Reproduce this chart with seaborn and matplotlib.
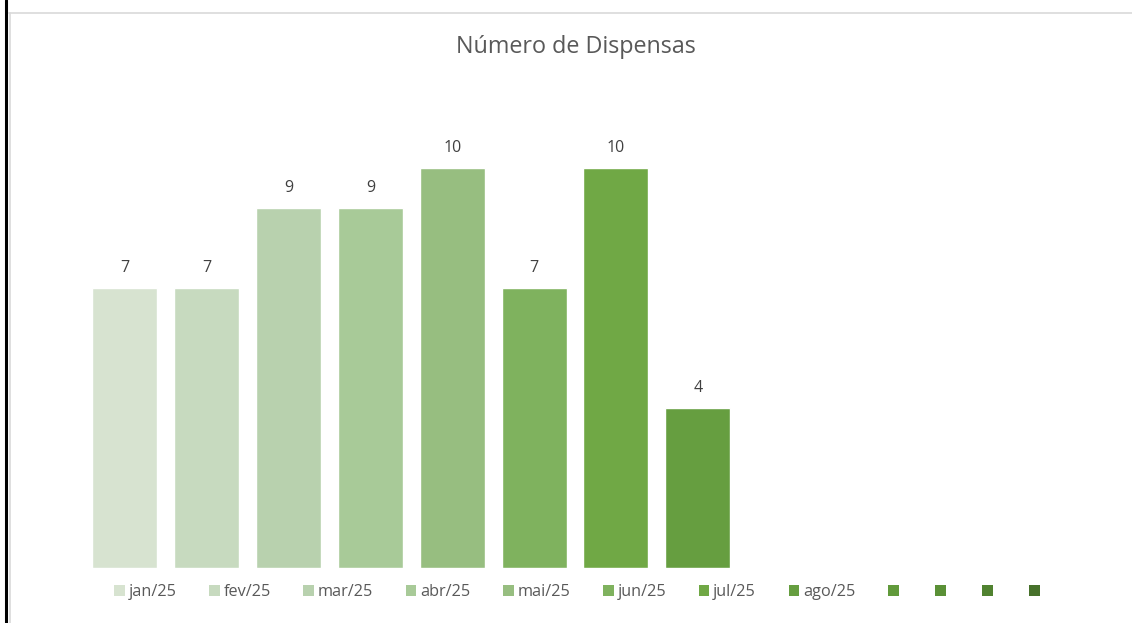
import numpy as np
import pandas as pd
import matplotlib
matplotlib.use("Agg")
import matplotlib.pyplot as plt
from matplotlib.patches import Patch
from matplotlib.lines import Line2D
import seaborn as sns

# ---- data ----
months = ["jan/25", "fev/25", "mar/25", "abr/25", "mai/25", "jun/25",
          "jul/25", "ago/25", "", "", "", ""]
values = [7, 7, 9, 9, 10, 7, 10, 4, np.nan, np.nan, np.nan, np.nan]
colors = ["#d7e3d0", "#c7dabf", "#b8d1ae", "#a8ca98", "#97be80", "#7fb25e",
          "#70a845", "#669e40", "#619a3b", "#5a9036", "#508230", "#47712b"]
title = "Número de Dispensas"

sns.set_theme(style="white")
plt.rcParams['font.family'] = ['Open Sans', 'DejaVu Sans']

fig = plt.figure(figsize=(11.32, 6.23), dpi=100)
ax = fig.add_axes([84/1132, (623-568)/623, 982/1132, 480/623])

keys = list(range(len(months)))
df = pd.DataFrame({"pos": keys, "val": values})
df_plot = df.dropna()
sns.barplot(data=df_plot, x="pos", y="val", hue="pos", order=keys,
            hue_order=keys, palette=colors, dodge=False, width=0.795,
            legend=False, ax=ax, saturation=1)

for c in ax.containers:
    labs = [("" if np.isnan(v) or v == 0 else f"{int(v)}") for v in c.datavalues]
    ax.bar_label(c, labels=labs, padding=9, fontsize=11.5, color="#404040")

ax.set_xlim(-0.5, 11.5)
ax.set_ylim(0, 12)
ax.set_xticks([])
ax.set_yticks([])
ax.set_xlabel("")
ax.set_ylabel("")
for s in ax.spines.values():
    s.set_visible(False)

fig.text(576/1132, 1 - 47/623, title, ha="center", va="center",
         fontsize=16.8, color="#595959")

handles = [Patch(facecolor=c, edgecolor="none") for c in colors]
leg = fig.legend(handles, months, loc="center", ncol=12,
                 bbox_to_anchor=(579/1132, 1 - 592/623), frameon=False,
                 fontsize=11.7, handlelength=0.65, handleheight=0.65,
                 handletextpad=0.25, columnspacing=2.0, labelcolor="#595959")

# frame lines
fig.add_artist(Line2D([9/1132, 1.0], [1 - 12.5/623, 1 - 12.5/623],
                      transform=fig.transFigure, color="#d9d9d9", lw=1.2))
fig.add_artist(Line2D([9.5/1132, 9.5/1132], [0, 1 - 12.5/623],
                      transform=fig.transFigure, color="#d9d9d9", lw=1.2))
fig.add_artist(Line2D([6/1132, 6/1132], [0, 1],
                      transform=fig.transFigure, color="black", lw=2.2))

fig.savefig("out.png", dpi=100)
